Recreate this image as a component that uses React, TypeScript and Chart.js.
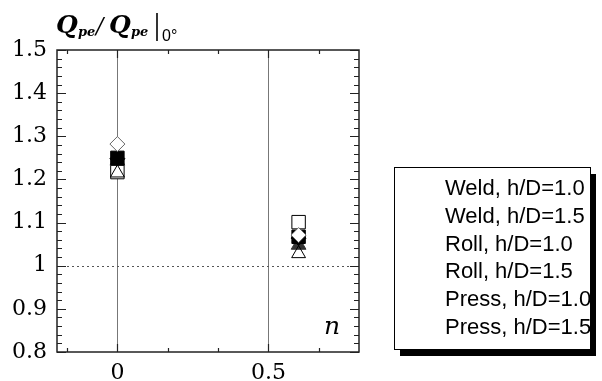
import React, { useEffect, useRef } from "react";
import { Chart, registerables } from "chart.js";

Chart.register(...registerables);

// Taper ratio n at which each specimen group was tested
const nValues = [0, 0.6];

// Q_pe normalised by the 0° value, one array per specimen group
const weldH10 = [1.217, 1.101];
const weldH15 = [1.25, 1.067];
const rollH10 = [1.282, 1.071];
const rollH15 = [1.248, 1.064];
const pressH10 = [1.215, 1.028];
const pressH15 = [1.243, 1.048];

const seriesLabels = [
  "Weld, h/D=1.0",
  "Weld, h/D=1.5",
  "Roll, h/D=1.0",
  "Roll, h/D=1.5",
  "Press, h/D=1.0",
  "Press, h/D=1.5",
];

const yTickValues = [0.8, 0.9, 1.0, 1.1, 1.2, 1.3, 1.4, 1.5];
const yTickLabels = ["0.8", "0.9", "1", "1.1", "1.2", "1.3", "1.4", "1.5"];
const xTickValues = [0, 0.5];
const xTickLabels = ["0", "0.5"];
const xMinorTicks = [-1 / 6, 1 / 6, 1 / 3, 2 / 3];
const referenceLines = [0, 0.5];

const SERIF = "'DejaVu Serif', serif";
const SANS = "'Liberation Sans', sans-serif";

const frameAndLabels = {
  id: "frameAndLabels",
  beforeDatasetsDraw(chart: any) {
    const { ctx, chartArea: a, scales } = chart;
    const x = scales.x;
    const y = scales.y;
    ctx.save();
    ctx.strokeStyle = "#777";
    ctx.lineWidth = 1;
    for (const v of referenceLines) {
      const px = Math.round(x.getPixelForValue(v)) + 0.5;
      ctx.beginPath();
      ctx.moveTo(px, a.top);
      ctx.lineTo(px, a.bottom);
      ctx.stroke();
    }
    ctx.setLineDash([2, 3]);
    ctx.strokeStyle = "#555";
    const py = Math.round(y.getPixelForValue(1)) + 0.5;
    ctx.beginPath();
    ctx.moveTo(a.left, py);
    ctx.lineTo(a.right, py);
    ctx.stroke();
    ctx.restore();
  },
  afterDraw(chart: any) {
    const { ctx, chartArea: a, scales } = chart;
    const x = scales.x;
    const y = scales.y;
    ctx.save();

    // frame
    ctx.strokeStyle = "#222";
    ctx.lineWidth = 1.5;
    ctx.strokeRect(a.left, a.top, a.right - a.left, a.bottom - a.top);

    // inward tick marks on the y axis (left and right)
    ctx.lineWidth = 1.2;
    for (let i = 0; i <= 35; i++) {
      const v = 0.8 + i * 0.02;
      const py = Math.round(y.getPixelForValue(v)) + 0.5;
      const len = i % 5 === 0 ? 9 : 5;
      ctx.beginPath();
      ctx.moveTo(a.left, py);
      ctx.lineTo(a.left + len, py);
      ctx.moveTo(a.right, py);
      ctx.lineTo(a.right - len, py);
      ctx.stroke();
    }

    // inward tick marks on the x axis (bottom and top)
    const drawXTick = (v: number, len: number) => {
      const px = Math.round(x.getPixelForValue(v)) + 0.5;
      ctx.beginPath();
      ctx.moveTo(px, a.bottom);
      ctx.lineTo(px, a.bottom - len);
      ctx.moveTo(px, a.top);
      ctx.lineTo(px, a.top + len);
      ctx.stroke();
    };
    for (const v of xTickValues) drawXTick(v, 8);
    for (const v of xMinorTicks) drawXTick(v, 4);

    // axis variable n
    ctx.fillStyle = "#000";
    ctx.font = `italic 25px ${SERIF}`;
    ctx.textAlign = "center";
    ctx.textBaseline = "alphabetic";
    ctx.fillText("n", 332, 334);

    // ordinate title  Q_pe / Q_pe |0°
    ctx.textAlign = "left";
    ctx.font = `bold italic 25px ${SERIF}`;
    ctx.fillText("Q", 56, 33);
    ctx.font = `bold italic 13px ${SERIF}`;
    ctx.fillText("pe", 78, 36);
    ctx.font = `italic 22px ${SERIF}`;
    ctx.fillText("/", 96, 33);
    ctx.font = `bold italic 25px ${SERIF}`;
    ctx.fillText("Q", 109, 33);
    ctx.font = `bold italic 13px ${SERIF}`;
    ctx.fillText("pe", 131, 36);
    ctx.lineWidth = 1.6;
    ctx.strokeStyle = "#000";
    ctx.beginPath();
    ctx.moveTo(157, 13);
    ctx.lineTo(157, 41);
    ctx.stroke();
    ctx.font = `16px ${SANS}`;
    ctx.fillText("0°", 162, 41);

    // legend box with drop shadow
    const bx = 394, by = 167, bw = 196, bh = 182;
    ctx.fillStyle = "#000";
    ctx.fillRect(bx + 6, by + 7, bw, bh);
    ctx.fillStyle = "#fff";
    ctx.fillRect(bx, by, bw, bh);
    ctx.lineWidth = 1;
    ctx.strokeStyle = "#000";
    ctx.strokeRect(bx + 0.5, by + 0.5, bw, bh);
    ctx.fillStyle = "#000";
    ctx.font = `22px ${SANS}`;
    ctx.textBaseline = "alphabetic";
    seriesLabels.forEach((label, i) => {
      ctx.fillText(label, 445, 195 + i * 27.8);
    });

    ctx.restore();
  },
};

function points(values: number[]) {
  return nValues.map((n, i) => ({ x: n, y: values[i] }));
}

export default function App() {
  const ref = useRef<HTMLCanvasElement>(null);

  useEffect(() => {
    const canvas = ref.current;
    if (!canvas) return;
    const chart = new Chart(canvas, {
      type: "scatter",
      data: {
        datasets: [
          {
            label: seriesLabels[2],
            data: points(rollH10),
            pointStyle: "rectRot",
            pointRadius: 7.5,
            backgroundColor: "#fff",
            borderColor: "#666",
            borderWidth: 1,
            order: 0,
          },
          {
            label: seriesLabels[4],
            data: points(pressH10),
            pointStyle: "triangle",
            pointRadius: 8,
            backgroundColor: "rgba(255,255,255,0)",
            borderColor: "#000",
            borderWidth: 1,
            order: 1,
          },
          {
            label: seriesLabels[0],
            data: points(weldH10),
            pointStyle: "rect",
            pointRadius: 9.5,
            backgroundColor: "#fff",
            borderColor: "#000",
            borderWidth: 1,
            order: 2,
          },
          {
            label: seriesLabels[1],
            data: points(weldH15),
            pointStyle: "rect",
            pointRadius: 9.5,
            backgroundColor: "#000",
            borderColor: "#000",
            borderWidth: 1,
            order: 3,
          },
          {
            label: seriesLabels[3],
            data: points(rollH15),
            pointStyle: "rectRot",
            pointRadius: 7.5,
            backgroundColor: "#000",
            borderColor: "#000",
            borderWidth: 1,
            order: 4,
          },
          {
            label: seriesLabels[5],
            data: points(pressH15),
            pointStyle: "triangle",
            pointRadius: 8.5,
            backgroundColor: "#333",
            borderColor: "#333",
            borderWidth: 1,
            order: 5,
          },
        ],
      },
      options: {
        responsive: false,
        animation: false,
        devicePixelRatio: 1,
        layout: { padding: { left: 0, right: 243, top: 50, bottom: 0 } },
        plugins: {
          legend: { display: false },
          tooltip: { enabled: false },
        },
        scales: {
          x: {
            type: "linear",
            min: -0.2,
            max: 0.8,
            afterBuildTicks: (s: any) => {
              s.ticks = xTickValues.map((v) => ({ value: v }));
            },
            afterFit: (s: any) => {
              s.height = 48;
            },
            ticks: {
              padding: 8,
              color: "#000",
              font: { family: SERIF, size: 22 },
              maxRotation: 0,
              callback: (v: any) => {
                const i = xTickValues.indexOf(Number(v));
                return i >= 0 ? xTickLabels[i] : "";
              },
            },
            grid: { display: false, drawTicks: false },
            border: { display: false },
          },
          y: {
            type: "linear",
            min: 0.8,
            max: 1.5,
            afterBuildTicks: (s: any) => {
              s.ticks = yTickValues.map((v) => ({ value: v }));
            },
            afterFit: (s: any) => {
              s.width = 57;
            },
            ticks: {
              padding: 10,
              color: "#000",
              font: { family: SERIF, size: 22 },
              callback: (v: any) => {
                const i = yTickValues.findIndex((t) => Math.abs(t - Number(v)) < 1e-6);
                return i >= 0 ? yTickLabels[i] : "";
              },
            },
            grid: { display: false, drawTicks: false },
            border: { display: false },
          },
        },
      },
      plugins: [frameAndLabels],
    });
    return () => chart.destroy();
  }, []);

  return (
    <div
      style={{
        position: "fixed",
        left: 0,
        top: 0,
        width: 602,
        height: 381,
        overflow: "hidden",
        background: "#fff",
      }}
    >
      <canvas ref={ref} width={602} height={400} style={{ display: "block" }} />
    </div>
  );
}
